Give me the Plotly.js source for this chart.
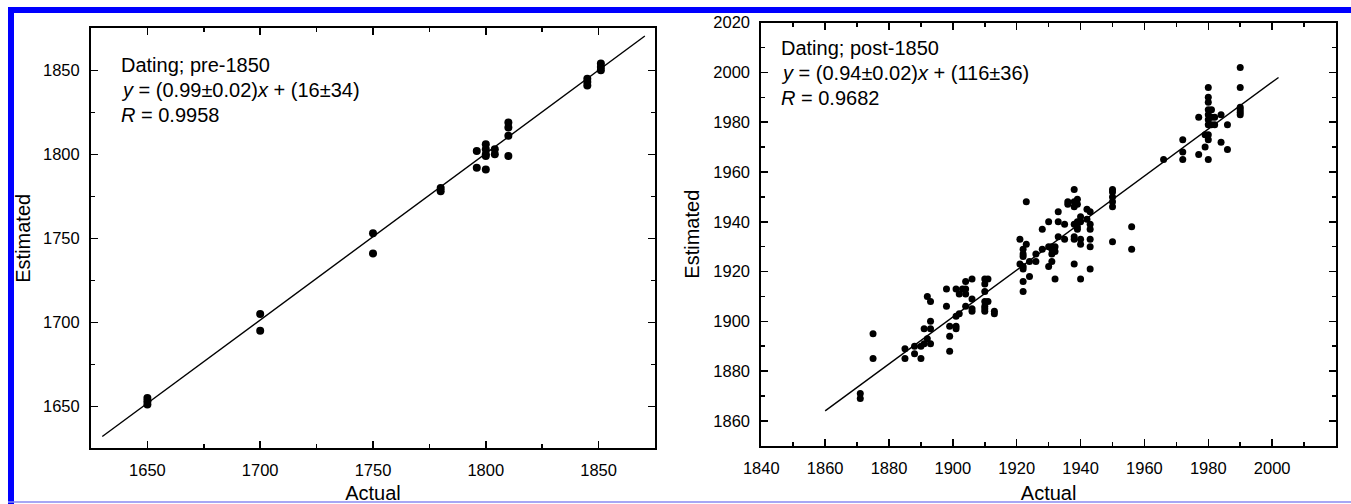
<!DOCTYPE html>
<html>
<head>
<meta charset="utf-8">
<script src="https://cdn.plot.ly/plotly-3.0.1.min.js"></script>
<style>html,body{margin:0;padding:0;background:#fff;}#chart{width:1351px;height:504px;}</style>
</head>
<body>
<div id="chart"></div>
<script>
// ---- pre-1850 panel data ----
const preX = [1650,1650,1650, 1700,1700, 1750,1750, 1780,1780, 1796,1796,
              1800,1800,1800,1800,1800, 1804,1804, 1810,1810,1810,1810,
              1845,1845,1845, 1851,1851,1851];
const preY = [1655,1653,1651, 1705,1695, 1753,1741, 1780,1778, 1802,1792,
              1806,1803,1800,1799,1791, 1803,1800, 1819,1816,1811,1799,
              1845,1843,1841, 1854,1852,1850];
const preFitX = [1630, 1870.5];
const preFitY = [1632, 1870.4];

// ---- post-1850 panel data ----
const postX = [1871,1871, 1875,1875, 1885,1885, 1888,1888, 1890,1890, 1891,1891,
  1892,1892, 1893,1893,1893,1893, 1898,1898, 1899,1899,1899, 1901,1901,1901,1901,
  1902,1902, 1903, 1904,1904,1904,1904, 1906,1906,1906,1906,
  1910,1910,1910,1910,1910,1910,1910, 1911,1911, 1913,1913,
  1921,1921, 1922,1922,1922,1922,1922,1922,1922, 1923,1923, 1924,1924, 1926,1926,
  1928,1928, 1930,1930,1930, 1931,1931,1931,1931, 1932,1932,1932, 1933,1933,1933,
  1935,1935, 1936,1936, 1938,1938,1938,1938,1938,1938,1938, 1939,1939,1939,1939,1939,
  1940,1940,1940,1940,1940, 1942,1942, 1943,1943,1943,1943,1943,1943,
  1950,1950,1950,1950,1950,1950, 1956,1956, 1966, 1972,1972,1972, 1977,1977, 1979,1979,
  1980,1980,1980,1980,1980,1980,1980,1980,1980,1980, 1981,1981,1981, 1982,1982,
  1984,1984, 1986,1986, 1990,1990,1990,1990,1990,1990];
const postY = [1871,1869, 1895,1885, 1889,1885, 1890,1887, 1890,1885, 1897,1891,
  1910,1893, 1908,1900,1897,1891, 1913,1906, 1898,1894,1888, 1913,1898,1897,1902,
  1911,1903, 1913, 1916,1913,1911,1906, 1917,1909,1905,1904,
  1917,1915,1912,1908,1906,1905,1904, 1917,1908, 1904,1903,
  1933,1923, 1929,1927,1926,1922,1921,1916,1912, 1948,1931, 1924,1918, 1927,1924,
  1937,1929, 1940,1930,1922, 1930,1929,1927,1924, 1930,1928,1917, 1944,1940,1934,
  1939,1933, 1948,1947, 1953,1948,1946,1939,1934,1933,1923, 1949,1947,1940,1938,1937,
  1942,1940,1933,1931,1917, 1945,1941, 1944,1939,1937,1933,1930,1921,
  1953,1952,1950,1948,1946,1932, 1938,1929, 1965, 1973,1968,1965, 1982,1967, 1975,1970,
  1994,1990,1988,1985,1983,1981,1979,1975,1973,1965, 1985,1982,1979, 1982,1979,
  1983,1972, 1979,1969, 2002,1994,1986,1985,1984,1983];
const postFitX = [1860, 2002];
const postFitY = [1864, 1998];

// ---- tick / label text ----
const preTickVals = [1650,1700,1750,1800,1850];
const postXTickVals = [1840,1860,1880,1900,1920,1940,1960,1980,2000,2020];
const postYTickVals = [1860,1880,1900,1920,1940,1960,1980,2000,2020];
const preLabel = ["Dating; pre-1850", "<i>y</i> = (0.99±0.02)<i>x</i> + (16±34)", "<i>R</i> = 0.9958"];
const postLabel = ["Dating; post-1850", "<i>y</i> = (0.94±0.02)<i>x</i> + (116±36)", "<i>R</i> = 0.9682"];

const W = 1351, H = 504;
const FONT = "Liberation Sans, Arial, sans-serif";
const px = v => v / W;
const py = v => (H - v) / H;

function axis(extra) {
  return Object.assign({
    showline: true, linecolor: "#000", linewidth: 2, mirror: "ticks",
    ticks: "inside", ticklen: 7, tickwidth: 1.5, tickcolor: "#000",
    showgrid: false, zeroline: false,
    tickfont: {family: FONT, size: 16.5, color: "#000"},
    ticklabelstandoff: 6,
    fixedrange: true
  }, extra);
}

const traces = [
  {x: preX, y: preY, type: "scatter", mode: "markers", xaxis: "x", yaxis: "y",
   marker: {color: "#000", size: 8}},
  {x: preFitX, y: preFitY, type: "scatter", mode: "lines", xaxis: "x", yaxis: "y",
   line: {color: "#000", width: 1.4}},
  {x: postX, y: postY, type: "scatter", mode: "markers", xaxis: "x2", yaxis: "y2",
   marker: {color: "#000", size: 7}},
  {x: postFitX, y: postFitY, type: "scatter", mode: "lines", xaxis: "x2", yaxis: "y2",
   line: {color: "#000", width: 1.4}}
];

const annotations = [];
preLabel.forEach((t, i) => annotations.push({
  xref: "paper", yref: "paper", x: px(118.6), y: py(65 + 25 * i),
  xanchor: "left", yanchor: "middle", showarrow: false, text: t,
  font: {family: FONT, size: 20, color: "#000"}
}));
postLabel.forEach((t, i) => annotations.push({
  xref: "paper", yref: "paper", x: px(779.4), y: py(48.3 + 25 * i),
  xanchor: "left", yanchor: "middle", showarrow: false, text: t,
  font: {family: FONT, size: 20, color: "#000"}
}));

const layout = {
  width: W, height: H,
  margin: {l: 0, r: 0, t: 0, b: 0},
  paper_bgcolor: "#fff", plot_bgcolor: "#fff",
  showlegend: false,
  xaxis: axis({domain: [px(91), px(655)], range: [1625, 1875], tickvals: preTickVals,
    minor: {dtick: 25, tick0: 1625, ticks: "inside", ticklen: 4, tickwidth: 1.5, showgrid: false},
    title: {text: "Actual", font: {family: FONT, size: 20, color: "#000"}, standoff: 24}}),
  yaxis: axis({domain: [py(448.3), py(28.3)], range: [1625, 1875], tickvals: preTickVals,
    minor: {dtick: 25, tick0: 1625, ticks: "inside", ticklen: 4, tickwidth: 1.5, showgrid: false},
    title: {text: "Estimated", font: {family: FONT, size: 20, color: "#000"}, standoff: 7}}),
  xaxis2: axis({domain: [px(761.3), px(1336)], range: [1840, 2020], tickvals: postXTickVals, anchor: "y2",
    minor: {dtick: 10, tick0: 1840, ticks: "inside", ticklen: 4, tickwidth: 1.5, showgrid: false},
    title: {text: "Actual", font: {family: FONT, size: 20, color: "#000"}, standoff: 26}}),
  yaxis2: axis({domain: [py(445.7), py(22.7)], range: [1850, 2020], tickvals: postYTickVals, anchor: "x2",
    minor: {dtick: 10, tick0: 1850, ticks: "inside", ticklen: 4, tickwidth: 1.5, showgrid: false},
    title: {text: "Estimated", font: {family: FONT, size: 20, color: "#000"}, standoff: 8}}),
  annotations: annotations,
  shapes: [
    {type: "rect", xref: "paper", yref: "paper", x0: px(8), x1: px(14), y0: 0, y1: py(7),
     fillcolor: "#0000ff", line: {width: 0}, layer: "above"},
    {type: "rect", xref: "paper", yref: "paper", x0: px(8), x1: 1, y0: py(13), y1: py(7),
     fillcolor: "#0000ff", line: {width: 0}, layer: "above"},
    {type: "line", xref: "paper", yref: "paper", x0: px(8), x1: 1, y0: py(502), y1: py(502),
     line: {color: "#8a8af0", width: 1.5}, layer: "above"}
  ]
};

Plotly.newPlot("chart", traces, layout, {displayModeBar: false, staticPlot: true});
</script>
</body>
</html>
